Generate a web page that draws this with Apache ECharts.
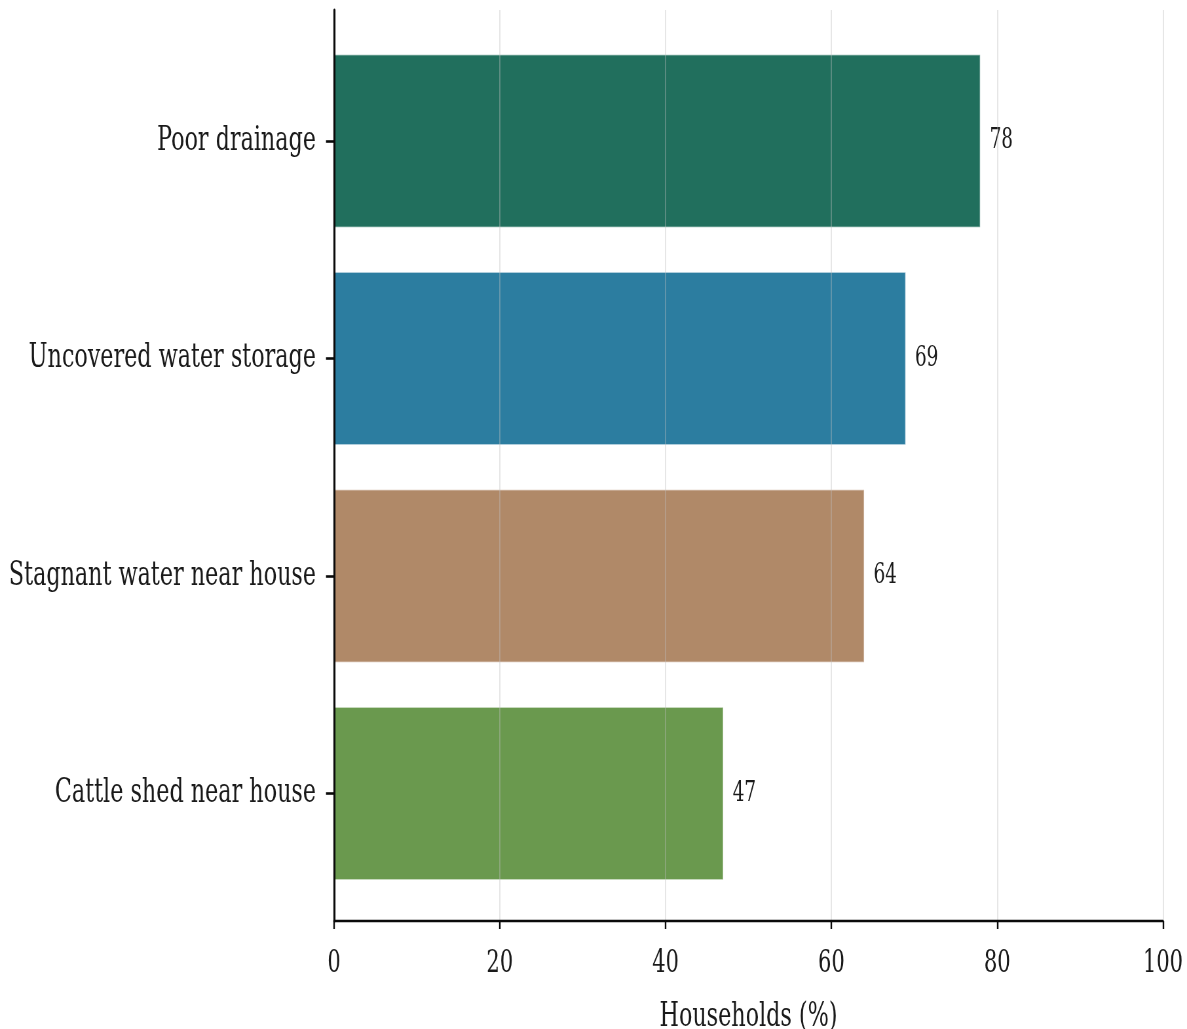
<!DOCTYPE html>
<html><head><meta charset="utf-8">
<script src="https://cdn.jsdelivr.net/npm/echarts@6/dist/echarts.min.js"></script>
<style>
html,body{margin:0;padding:0;background:#fff;overflow:hidden}
#wrap{width:1187px;height:1029px;overflow:hidden}
#c{width:1812px;height:1029px;transform:scaleX(0.655077);transform-origin:0 0}
</style>
</head><body><div id="wrap"><div id="c"></div></div>
<script>
const categories = ["Poor drainage", "Uncovered water storage", "Stagnant water near house", "Cattle shed near house"];
const values = [78, 69, 64, 47];
const barColors = ["#216f5d", "#2c7da0", "#b08968", "#6a994e"];
const xTicks = [0, 20, 40, 60, 80, 100];

const FONT = "DejaVu Serif";
const F = 1187 / 1812; // horizontal squeeze of the figure
const px = v => v / F;
const chart = echarts.init(document.getElementById('c'), null, {renderer: 'canvas'});
chart.setOption({
  backgroundColor: '#fff',
  animation: false,
  grid: [
    {left: px(334), right: px(24), top: 32.25, bottom: 126.75, containLabel: false, outerBoundsMode: 'none'},
    {left: px(334), right: px(24), top: 10, bottom: 108, containLabel: false, outerBoundsMode: 'none'}
  ],
  xAxis: [
    {gridIndex: 0, type: 'value', min: 0, max: 100, show: false},
    {gridIndex: 1, type: 'value', min: xTicks[0], max: xTicks[xTicks.length-1], interval: 20, z: 3,
     axisLine: {show: true, lineStyle: {color: '#0a0a0a', width: 2.4}},
     axisTick: {show: true, length: 8, lineStyle: {color: '#0a0a0a', width: 2.4}},
     axisLabel: {fontFamily: FONT, fontSize: 32, color: '#1a1a1a', margin: 27},
     splitLine: {show: true, lineStyle: {color: 'rgba(190,190,190,0.42)', width: 1.8}},
     name: 'Households (%)', nameLocation: 'middle', nameGap: 79,
     nameTextStyle: {fontFamily: FONT, fontSize: 34, color: '#1a1a1a'}}
  ],
  yAxis: [
    {gridIndex: 0, type: 'category', data: categories, inverse: true,
     axisLine: {show: false},
     axisTick: {show: true, alignWithLabel: true, length: px(8), lineStyle: {color: '#0a0a0a', width: 2.6}},
     axisLabel: {fontFamily: FONT, fontSize: 34, color: '#1a1a1a', margin: px(18)},
     splitLine: {show: false}},
    {gridIndex: 1, type: 'value', min: 0, max: 1, z: 4,
     axisLine: {show: true, lineStyle: {color: '#0a0a0a', width: 3.2}},
     axisTick: {show: false}, axisLabel: {show: false}, splitLine: {show: false}}
  ],
  series: [{
    type: 'bar', xAxisIndex: 0, yAxisIndex: 0, barWidth: '80%',
    data: values.map((v, i) => ({value: v, itemStyle: {color: barColors[i]}})),
    itemStyle: {borderColor: 'rgba(255,255,255,0.5)', borderWidth: 1.5},
    label: {show: true, position: 'right', distance: px(9), fontFamily: FONT, fontSize: 28, color: '#1a1a1a'}
  }]
});
</script></body></html>
